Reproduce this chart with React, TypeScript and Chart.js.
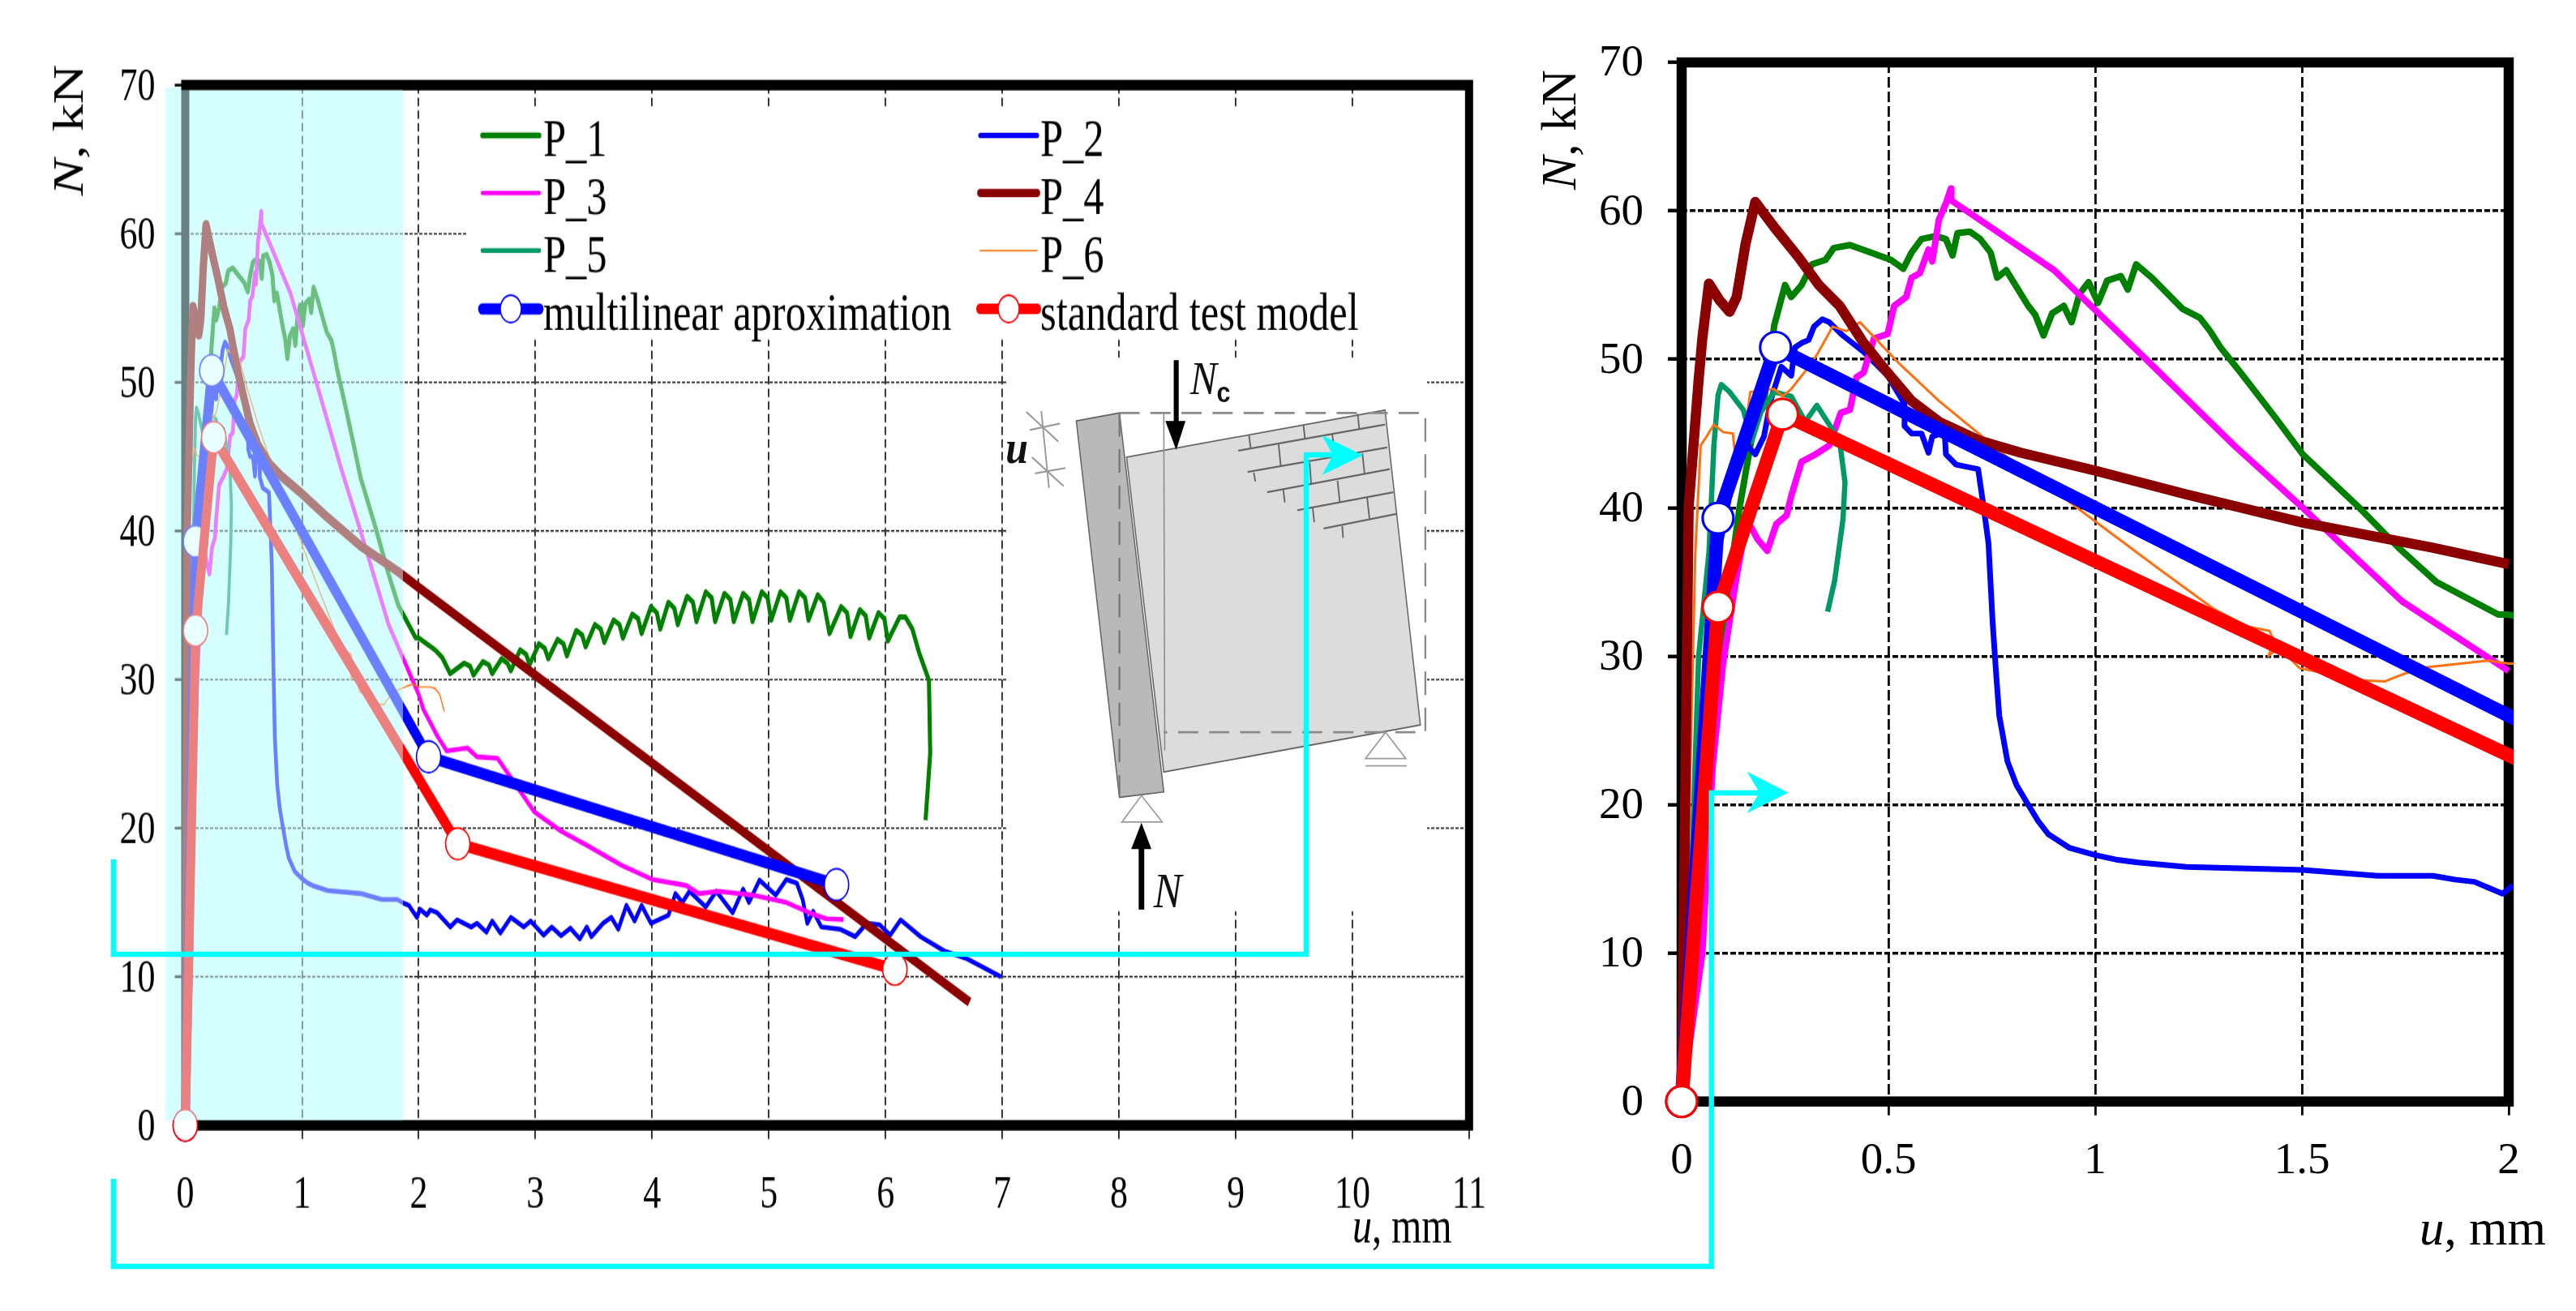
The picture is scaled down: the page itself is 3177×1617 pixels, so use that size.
import React, { useEffect, useRef } from "react";
import { Chart, registerables } from "chart.js";

Chart.register(...registerables);

// ---- data (u in mm, N in kN) ----
const p1U = [0, 0.03, 0.09, 0.14, 0.17, 0.2, 0.224, 0.25, 0.265, 0.29, 0.315, 0.348, 0.368, 0.407, 0.456, 0.506, 0.536, 0.556, 0.58, 0.614, 0.639, 0.655, 0.667, 0.697, 0.722, 0.747, 0.763, 0.785, 0.838, 0.855, 0.875, 0.896, 0.924, 0.943, 0.962, 0.984, 1.007, 1.029, 1.062, 1.079, 1.099, 1.137, 1.211, 1.253, 1.278, 1.303, 1.352, 1.435, 1.502, 1.635, 1.734, 1.825, 1.975, 2.0, 2.14, 2.2, 2.27,
  2.39, 2.44, 2.47, 2.55, 2.6, 2.63, 2.71, 2.76, 2.79, 2.87, 2.92, 2.95, 3.03, 3.08, 3.11, 3.19, 3.24, 3.27, 3.35, 3.4, 3.43, 3.51, 3.56, 3.59, 3.67, 3.72, 3.75, 3.83, 3.88, 3.91, 3.99, 4.04, 4.07, 4.14, 4.19, 4.22, 4.3, 4.35, 4.38, 4.46, 4.51, 4.54, 4.62, 4.67, 4.7, 4.78, 4.83, 4.86, 4.94, 4.99, 5.02, 5.1, 5.15, 5.18, 5.26, 5.31, 5.34, 5.42, 5.47, 5.52, 5.62, 5.67, 5.7, 5.78, 5.83, 5.86, 5.94, 5.99, 6.02, 6.12, 6.17, 6.23, 6.286, 6.372, 6.383, 6.343];
const p1N = [0, 10, 30, 40, 44.8, 47.3, 52.3, 55, 54.2, 55, 56.4, 56.7, 57.5, 57.7, 57.2, 56.7, 56.1, 57.2, 58.1, 58.3, 58.1, 57, 58.5, 58.6, 58.1, 57.2, 55.5, 56, 53.6, 53, 51.6, 53.1, 53.6, 52.5, 54.4, 55.2, 53.8, 55.3, 55.6, 54.7, 56.4, 55.5, 53.4, 52.8, 51.9, 50.8, 49.1, 46.1, 43.6, 40.1, 37.3, 35, 32.8, 32.8, 32, 31.5, 30.4,
  31.1, 30.9, 30.3, 31.2, 31, 30.4, 31.4, 31.1, 30.6, 32, 31.7, 31, 32.4, 32.1, 31.4, 32.7, 32.4, 31.6, 33.3, 33, 32.2, 33.7, 33.4, 32.5, 34, 33.7, 32.8, 34.4, 34.1, 33.1, 34.9, 34.5, 33.4, 35.2, 34.8, 33.7, 35.6, 35.2, 33.9, 35.9, 35.5, 33.9, 35.8, 35.4, 33.9, 35.8, 35.4, 33.9, 35.9, 35.5, 34, 35.9, 35.5, 34, 35.9, 35.5, 34, 35.7, 35.2, 33.1, 34.9, 34.5, 32.9, 34.7, 34.3, 32.8, 34.5, 34.1, 32.6, 34.2, 34.2, 33.4, 31.85, 29.94, 25.06, 20.53];

const p2U = [0, 0.04, 0.075, 0.124, 0.149, 0.178, 0.199, 0.216, 0.241, 0.265, 0.274, 0.29, 0.307, 0.32, 0.34, 0.357, 0.39, 0.44, 0.498, 0.539, 0.539, 0.556, 0.58, 0.597, 0.606, 0.636, 0.639, 0.664, 0.717, 0.73, 0.742, 0.752, 0.76, 0.768, 0.788, 0.81, 0.838, 0.862, 0.887, 0.937, 1.0, 1.05, 1.103, 1.22, 1.502, 1.684, 1.817, 1.87, 1.917, 1.985, 2.01, 2.07, 2.1, 2.16, 2.27, 2.33, 2.45, 2.5, 2.58, 2.63, 2.7, 2.79, 2.9, 2.96, 3.07, 3.14, 3.22, 3.3, 3.38, 3.44, 3.48, 3.58, 3.65, 3.71, 3.78, 3.85, 3.91, 3.99, 4.14, 4.2, 4.26, 4.32, 4.46, 4.55, 4.69, 4.78, 4.83, 4.92, 5.06, 5.15, 5.24, 5.29, 5.33, 5.38, 5.45, 5.61, 5.74, 5.84, 5.95, 6.04, 6.13, 6.3, 6.5, 6.7, 6.99];
const p2N = [0, 15, 35, 42, 44.5, 43.6, 44.8, 47.3, 49.5, 48.9, 50.8, 51.1, 51.3, 52.2, 52.7, 52.5, 51.6, 50.5, 48.9, 47, 45.5, 45, 45, 43.7, 44.8, 45.1, 43.6, 42.9, 42.6, 40.1, 37.6, 32.3, 29, 26, 22.9, 21.3, 20, 18.9, 18, 17.1, 16.6, 16.3, 16.1, 15.8, 15.6, 15.2, 15.2, 14.95, 14.8, 14, 14.55, 14.15, 14.5, 14.3, 13.35, 13.83, 13.35, 13.6, 13, 13.75, 12.95, 14, 13.35, 13.75, 12.8, 13.35, 12.76, 13.27, 12.55, 13.35, 12.7, 13.6, 14, 13.2, 14.8, 13.75, 14.8, 13.6, 14.15, 15.6, 15, 15.75, 14.7, 15.75, 14.3, 15.9, 15, 16.5, 15.5, 16.55, 16.3, 15.2, 13.6, 14.4, 13.35, 13.2, 12.7, 13.6, 13.5, 12.8, 13.83, 12.7, 11.75, 11.2, 10];

const p3U = [0, 0.05, 0.075, 0.1, 0.133, 0.158, 0.183, 0.207, 0.229, 0.254, 0.265, 0.29, 0.324, 0.357, 0.385, 0.407, 0.423, 0.44, 0.465, 0.498, 0.514, 0.543, 0.556, 0.576, 0.597, 0.606, 0.622, 0.639, 0.651, 0.652, 0.901, 1.112, 1.336, 1.502, 1.635, 1.742, 2.0, 2.04, 2.16, 2.24, 2.416, 2.5, 2.675, 2.79, 2.99, 3.22, 3.45, 3.74, 4.0, 4.29, 4.4, 4.57, 4.86, 5.15, 5.35, 5.49, 5.64];
const p3N = [0, 10, 22.6, 29.5, 35.4, 39.2, 37.9, 37.1, 38.9, 39.5, 40.8, 43.1, 43.6, 44.2, 46.4, 46.6, 48.8, 49.1, 51.4, 51.7, 53.6, 54.2, 55.5, 55.8, 57.4, 56.6, 59.4, 60.5, 61.5, 60.7, 56, 50.3, 44.2, 40, 36.5, 33.7, 29, 28, 26.2, 25.2, 25.4, 24.8, 24.7, 23.4, 21.1, 19.8, 18.8, 17.5, 16.55, 16.15, 15.6, 15.75, 15.5, 15, 14.3, 13.9, 13.85];

const p4U = [0, 0.017, 0.041, 0.05, 0.066, 0.091, 0.116, 0.133, 0.154, 0.178, 0.224, 0.282, 0.332, 0.382, 0.44, 0.498, 0.556, 0.622, 0.722, 0.821, 1.0, 1.22, 1.502, 1.817, 2.0, 6.72];
const p4N = [0, 40.1, 48.6, 51.4, 55.1, 54, 53.2, 54.2, 57.7, 60.6, 58.9, 56.9, 55, 53.6, 51.1, 49.1, 47.2, 45.8, 44.5, 43.7, 42.5, 40.9, 39, 37.3, 36.2, 8.3];

const p5U = [0, 0.02, 0.041, 0.066, 0.078, 0.088, 0.096, 0.116, 0.149, 0.17, 0.191, 0.224, 0.265, 0.299, 0.327, 0.357, 0.382, 0.395, 0.39, 0.37, 0.353];
const p5N = [0, 12, 30, 37, 44.2, 47.6, 48.3, 47.8, 46.6, 44.5, 46.4, 47.8, 47.5, 45.8, 46.9, 45.6, 44.5, 41.7, 39.2, 35.1, 33];

const p6U = [0, 0.015, 0.033, 0.046, 0.058, 0.078, 0.1, 0.124, 0.128, 0.15, 0.166, 0.191, 0.224, 0.244, 0.265, 0.299, 0.327, 0.365, 0.398, 0.431, 0.523, 0.622, 0.788, 0.904, 1.004, 1.153, 1.286, 1.369, 1.422, 1.432, 1.419, 1.444, 1.494, 1.527, 1.635, 1.701, 1.718, 1.784, 1.883, 1.95, 2.0, 2.1, 2.14, 2.18, 2.22];
const p6N = [0, 15, 37, 44.2, 44.7, 45.6, 45.1, 45, 43.9, 44.5, 47.8, 47.9, 48, 47.5, 48, 49.2, 50.3, 52.2, 51.9, 52.5, 49.8, 47.2, 43.4, 41.1, 39, 35.9, 33.2, 32, 31.7, 31, 30, 30.6, 29.2, 29, 28.4, 28.3, 28.5, 29.2, 29.5, 29.7, 29.5, 29.5, 29.4, 29, 27.85];

const multiU = [0, 0.088, 0.227, 2.085, 5.58];
const multiN = [0, 39.3, 50.8, 24.8, 16.2];
const stdU = [0, 0.088, 0.244, 2.335, 6.08];
const stdN = [0, 33.3, 46.3, 18.95, 10.5];

const leftXTicks = [0, 1, 2, 3, 4, 5, 6, 7, 8, 9, 10, 11];
const rightXTicks = [0, 0.5, 1, 1.5, 2];
const yTicks = [0, 10, 20, 30, 40, 50, 60, 70];

const FONT = "'Liberation Serif'";
const pts = (u: number[], n: number[]) => u.map((x, i) => ({ x, y: n[i] }));

// width multipliers are per chart: [left, right]
const seriesDefs = [
  { label: "P_1", u: p1U, n: p1N, color: "#008000", w: [5, 8], order: 10 },
  { label: "P_2", u: p2U, n: p2N, color: "#0000ff", w: [4.6, 7], order: 9 },
  { label: "P_3", u: p3U, n: p3N, color: "#ff00ff", w: [4.6, 8], order: 8 },
  { label: "P_4", u: p4U, n: p4N, color: "#8b0000", w: [9, 12.5], order: 5 },
  { label: "P_5", u: p5U, n: p5N, color: "#009966", w: [3.8, 6.5], order: 7 },
  { label: "P_6", u: p6U, n: p6N, color: "#ff7010", w: [1.4, 3], order: 6 },
  { label: "multilinear aproximation", u: multiU, n: multiN, color: "#0000ff", w: [11, 17], order: 4, marker: true },
  { label: "standard test model", u: stdU, n: stdN, color: "#ff0000", w: [11, 17], order: 3, marker: true },
];

const makeDatasets = (idx: number, radius: number, pw: number, clip: any) =>
  seriesDefs.map((s) => ({
    label: s.label,
    data: pts(s.u, s.n),
    showLine: true,
    borderColor: s.color,
    borderWidth: s.w[idx],
    borderCapStyle: "butt" as const,
    borderJoinStyle: "round" as const,
    order: s.order,
    tension: 0,
    clip,
    pointRadius: s.marker ? radius : 0,
    pointBackgroundColor: "#ffffff",
    pointBorderColor: s.color,
    pointBorderWidth: pw,
  }));

// mixed italic/roman text run
function drawRun(ctx: CanvasRenderingContext2D, parts: [string, boolean][], x: number, y: number, size: number) {
  let cx = x;
  ctx.textBaseline = "alphabetic";
  ctx.textAlign = "left";
  ctx.fillStyle = "#000";
  for (const [t, it] of parts) {
    ctx.font = `${it ? "italic " : ""}${size}px ${FONT}`;
    ctx.fillText(t, cx, y);
    cx += ctx.measureText(t).width;
  }
}

const LW = 1860, LH = 1244, K = 1617 / 1244;
const RW = 1317, RH = 1617;

function makeScales(opt: any) {
  return {
    x: {
      type: "linear", min: opt.xMin, max: opt.xMax,
      afterBuildTicks: (s: any) => { s.ticks = opt.xTicks.map((v: number) => ({ value: v })); },
      afterFit: (s: any) => { s.height = opt.H - opt.B; },
      border: { display: false, dash: opt.vDash },
      grid: { color: opt.gridColor, lineWidth: opt.vW, tickLength: opt.xTick, tickColor: opt.gridColor, tickWidth: opt.vW },
      ticks: { maxRotation: 0, autoSkip: false, color: "#000", padding: opt.xPad, font: { family: FONT, size: opt.fs }, callback: (v: number) => String(v) },
    },
    y: {
      type: "linear", min: 0, max: 70,
      afterBuildTicks: (s: any) => { s.ticks = yTicks.map((v) => ({ value: v })); },
      afterFit: (s: any) => { s.width = opt.L; },
      border: { display: false, dash: opt.hDash },
      grid: { color: opt.gridColor, lineWidth: opt.hW, tickLength: opt.yTick, tickColor: "#000", tickWidth: opt.hW + 1 },
      ticks: { autoSkip: false, color: "#000", padding: opt.yPad, labelOffset: opt.yOff, font: { family: FONT, size: opt.fs }, callback: (v: number) => String(v) },
    },
  };
}

const leftPlugin = {
  id: "leftDecor",
  beforeDraw(c: any) {
    const g = c.ctx;
    g.save();
    g.fillStyle = "#d6ffff";
    g.fillRect(204, 108 / K, 293, (1382 - 108) / K);
    g.restore();
  },
  beforeDatasetsDraw(c: any) {
    const g = c.ctx, a = c.chartArea;
    g.save();
    g.fillStyle = "#fff";
    g.fillRect(575, 132 / K, 1232, (419 - 132) / K);
    g.fillRect(1241, 441 / K, 519, (1124 - 441) / K);
    g.strokeStyle = "#000";
    g.lineWidth = 10;
    g.strokeRect(a.left, a.top, a.right - a.left, a.bottom - a.top);
    g.restore();
  },
  afterDatasetsDraw(c: any) {
    const g = c.ctx;
    g.save();
    g.fillStyle = "rgba(214,255,255,0.5)";
    g.fillRect(204, 111 / K, 293, (1382 - 111) / K);
    g.restore();
  },
  afterDraw(c: any) {
    const g = c.ctx;
    // axis titles
    g.save();
    g.translate(102, 241 / K);
    g.rotate(-Math.PI / 2);
    drawRun(g, [["N", true], [", kN", false]], 0, 0, 52);
    g.restore();
    g.save();
    drawRun(g, [["u", true], [", mm", false]], 1668, 1532 / K, 48);
    g.restore();
    // legend
    const cols = [595, 1209];
    const textX = [670, 1283];
    const rowsY = [167, 238, 309, 381];
    const widths = [7, 6.5, 5.5, 10, 6, 2.2, 14, 13];
    seriesDefs.forEach((s, i) => {
      const col = i % 2;
      const row = Math.floor(i / 2);
      const x0 = cols[col], x1 = x0 + 70, y = rowsY[row] / K;
      g.save();
      g.strokeStyle = s.color;
      g.lineWidth = widths[i] / K;
      g.lineCap = "round";
      g.beginPath();
      g.moveTo(x0, y);
      g.lineTo(x1, y);
      g.stroke();
      if (s.marker) {
        g.fillStyle = "#fff";
        g.lineWidth = 1.6;
        g.beginPath();
        g.arc((x0 + x1) / 2, y, 13, 0, Math.PI * 2);
        g.fill();
        g.stroke();
      }
      g.restore();
      g.save();
      g.fillStyle = "#000";
      g.font = `50.5px ${FONT}`;
      g.textAlign = "left";
      g.textBaseline = "alphabetic";
      g.fillText(s.label, textX[col], (rowsY[row] + 26) / K);
      g.restore();
    });
  },
};

const rightPlugin = {
  id: "rightDecor",
  beforeDatasetsDraw(c: any) {
    const g = c.ctx, a = c.chartArea;
    g.save();
    g.strokeStyle = "#000";
    g.lineWidth = 12.5;
    g.strokeRect(a.left, a.top, a.right - a.left, a.bottom - a.top);
    g.restore();
  },
  afterDraw(c: any) {
    const g = c.ctx;
    g.save();
    g.translate(1943 - 1860, 234);
    g.rotate(-Math.PI / 2);
    drawRun(g, [["N", true], [", kN", false]], 0, 0, 62);
    g.restore();
    g.save();
    drawRun(g, [["u", true], [", mm", false]], 2984 - 1860, 1535, 61);
    g.restore();
  },
};

const Z = "translate(1200 450) scale(0.38265 0.44643)";

function Inset() {
  const wall = "#666";
  const bricks = [
    [855, 237, 1328, 165], [885, 296, 1335, 228], [948, 352, 1343, 288], [1045, 402, 1355, 352], [1130, 452, 1365, 412],
    [890, 195, 895, 232], [1065, 165, 1070, 205], [1240, 135, 1245, 178], [985, 220, 992, 280], [1158, 192, 1162, 218],
    [905, 298, 910, 322], [1085, 270, 1090, 330], [1255, 245, 1262, 300], [1000, 345, 1005, 380], [1175, 320, 1182, 378],
    [1095, 395, 1100, 435], [1270, 365, 1278, 425], [1190, 445, 1193, 478],
  ];
  const marks = [
    [220, 128, 245, 340], [172, 130, 275, 212], [183, 180, 280, 162], [190, 255, 292, 335], [200, 300, 298, 285],
  ];
  return (
    <g transform={Z}>
      <polygon points="495,255 1328,125 1442,995 615,1125" fill="#dcdcdc" stroke={wall} strokeWidth={4} />
      <polygon points="333,155 472,133 615,1180 472,1195" fill="#b9b9b9" stroke={wall} strokeWidth={4} />
      {bricks.map((b, i) => (
        <line key={i} x1={b[0]} y1={b[1]} x2={b[2]} y2={b[3]} stroke={wall} strokeWidth={5} />
      ))}
      <polyline points="472,133 1458,133 1458,1015 615,1015" fill="none" stroke="#8a8a8a" strokeWidth={6} strokeDasharray="65 35" />
      <line x1={472} y1={133} x2={472} y2={1190} stroke="#777" strokeWidth={6} strokeDasharray="65 35" />
      <line x1={615} y1={133} x2={618} y2={1065} stroke="#8a8a8a" strokeWidth={4} />
      <polygon points="543,1190 480,1263 610,1263" fill="#fff" stroke="#999" strokeWidth={4} />
      <polygon points="1330,1015 1265,1088 1395,1088" fill="#fff" stroke="#999" strokeWidth={4} />
      <line x1={1265} y1={1108} x2={1398} y2={1108} stroke="#999" strokeWidth={4} />
      <line x1={543} y1={1505} x2={543} y2={1320} stroke="#000" strokeWidth={18} />
      <polygon points="543,1265 510,1338 575,1338" fill="#000" />
      <line x1={655} y1={-13} x2={655} y2={160} stroke="#000" strokeWidth={16} />
      <polygon points="655,235 620,155 685,155" fill="#000" />
      {marks.map((b, i) => (
        <line key={i} x1={b[0]} y1={b[1]} x2={b[2]} y2={b[3]} stroke="#999" strokeWidth={5} />
      ))}
      <text x={582} y={1498} fontFamily={FONT} fontStyle="italic" fontSize={136} fill="#111">N</text>
      <text x={700} y={80} fontFamily={FONT} fontStyle="italic" fontSize={130} fill="#111">N</text>
      <text x={785} y={102} fontFamily="'Liberation Sans'" fontWeight="bold" fontSize={80} fill="#111">c</text>
      <text x={105} y={272} fontFamily={FONT} fontStyle="italic" fontWeight="bold" fontSize={130} fill="#111">u</text>
    </g>
  );
}

export default function App() {
  const leftRef = useRef<HTMLCanvasElement>(null);
  const rightRef = useRef<HTMLCanvasElement>(null);

  useEffect(() => {
    const left = new Chart(leftRef.current as any, {
      type: "scatter",
      data: { datasets: makeDatasets(0, 15, 1.6, false) as any },
      plugins: [leftPlugin],
      options: {
        animation: false, responsive: false, devicePixelRatio: 1,
        layout: { padding: { top: 105 / K, right: LW - 1813.6, left: 0, bottom: 0 } },
        plugins: { legend: { display: false }, tooltip: { enabled: false }, title: { display: false } },
        scales: makeScales({
          xMin: 0, xMax: 11, xTicks: leftXTicks, H: LH, B: 1388 / K, L: 228.5, fs: 44, yOff: 3,
          vDash: [8, 4], hDash: [4, 2], vW: 1.8, hW: 1.6, xTick: 13, yTick: 13, xPad: 27, yPad: 24, gridColor: "#222",
        }) as any,
      },
    });
    const right = new Chart(rightRef.current as any, {
      type: "scatter",
      data: { datasets: makeDatasets(1, 19, 3.2, { left: 40, top: 10, right: 6, bottom: 30 }) as any },
      plugins: [rightPlugin],
      options: {
        animation: false, responsive: false, devicePixelRatio: 1,
        layout: { padding: { top: 77, right: RW - 1234, left: 0, bottom: 0 } },
        plugins: { legend: { display: false }, tooltip: { enabled: false }, title: { display: false } },
        scales: makeScales({
          xMin: 0, xMax: 2, xTicks: rightXTicks, H: RH, B: 1358.6, L: 214, fs: 55, yOff: 2,
          vDash: [13, 5], hDash: [7, 3], vW: 2.8, hW: 3.4, xTick: 17, yTick: 17, xPad: 24, yPad: 30, gridColor: "#000",
        }) as any,
      },
    });
    return () => {
      left.destroy();
      right.destroy();
    };
  }, []);

  return (
    <div style={{ position: "fixed", left: 0, top: 0, width: 3177, height: 1617, background: "#fff", overflow: "hidden" }}>
      <canvas
        ref={leftRef}
        width={LW}
        height={LH}
        style={{ position: "absolute", left: 0, top: 0, transformOrigin: "0 0", transform: `scaleY(${K})`, filter: "blur(0.6px)" }}
      />
      <canvas ref={rightRef} width={RW} height={RH} style={{ position: "absolute", left: 1860, top: 0 }} />
      <svg width={3177} height={1617} style={{ position: "absolute", left: 0, top: 0 }}>
        <Inset />
        <g fill="none" stroke="#00ffff" strokeWidth={6.5}>
          <polyline points="140,1060 140,1177 1611,1177 1611,561 1650,561" />
          <polyline points="140,1454 140,1562 2110.7,1562 2110.7,978 2175,978" />
        </g>
        <polygon points="1630.5,537 1681,561.6 1630.5,586 1644,561.6" fill="#00ffff" />
        <polygon points="2154.7,951.7 2205.4,977.7 2154.7,1003 2170,977.7" fill="#00ffff" />
      </svg>
    </div>
  );
}
